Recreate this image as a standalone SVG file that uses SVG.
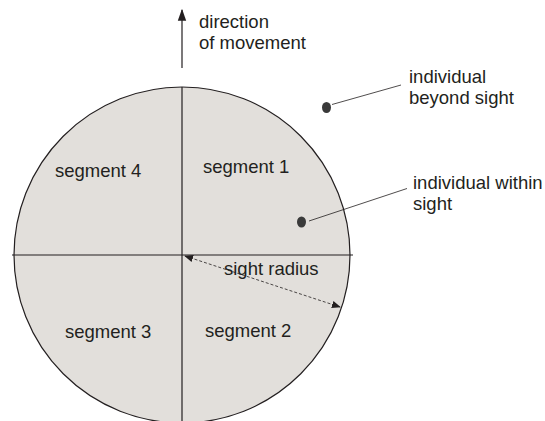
<svg xmlns="http://www.w3.org/2000/svg" width="545" height="421" viewBox="0 0 545 421">
<style>
text{font-family:"Liberation Sans",Arial,sans-serif;font-size:18.5px;fill:#231f20}
.ln{stroke:#231f20;stroke-width:1.2;fill:none}
.lead{stroke:#231f20;stroke-width:0.8;fill:none}
.dot{fill:#3a3a3a}
</style>
<defs>
<marker id="ah" viewBox="0 0 10 10" refX="9" refY="5" markerWidth="9" markerHeight="9" markerUnits="userSpaceOnUse" orient="auto-start-reverse">
<path d="M0,1 L10,5 L0,9 z" fill="#231f20"/>
</marker>
<marker id="ahUp" viewBox="0 0 10 10" refX="9" refY="5" markerWidth="12" markerHeight="12" markerUnits="userSpaceOnUse" orient="auto">
<path d="M0,1.5 L10,5 L0,8.5 z" fill="#231f20"/>
</marker>
</defs>
<rect width="545" height="421" fill="#fff"/>
<g id="circle">
<circle cx="182" cy="255" r="168" fill="#e2dfdb" stroke="#231f20" stroke-width="1.2"/>
<line class="ln" x1="182" y1="87" x2="182" y2="421"/>
<line class="ln" x1="12" y1="255" x2="353" y2="255"/>
</g>
<g id="direction">
<line class="ln" x1="182" y1="68" x2="182" y2="10" stroke-width="1.6" marker-end="url(#ahUp)"/>
<text x="199" y="28">direction</text>
<text x="199" y="49">of movement</text>
</g>
<g id="segment1"><text x="203" y="173">segment 1</text></g>
<g id="segment2"><text x="205" y="337">segment 2</text></g>
<g id="segment3"><text x="65" y="338">segment 3</text></g>
<g id="segment4"><text x="55" y="177">segment 4</text></g>
<g id="beyond">
<ellipse class="dot" cx="326.5" cy="107.5" rx="4.5" ry="5.5"/>
<text x="409" y="83">individual</text>
<text x="409" y="104">beyond sight</text>
</g>
<g id="within">
<ellipse class="dot" cx="301.5" cy="222" rx="4.5" ry="5.5"/>
<text x="413" y="189">individual within</text>
<text x="413" y="210">sight</text>
</g>
<g id="radius"><text x="224" y="275">sight radius</text></g>
<g id="connectors">
<line class="lead" x1="332" y1="104.5" x2="401" y2="85"/>
<line class="lead" x1="309" y1="221" x2="407" y2="188.5"/>
<line class="lead" x1="185" y1="256" x2="340" y2="307" stroke-dasharray="3,2" marker-start="url(#ah)" marker-end="url(#ah)"/>
</g>
</svg>
